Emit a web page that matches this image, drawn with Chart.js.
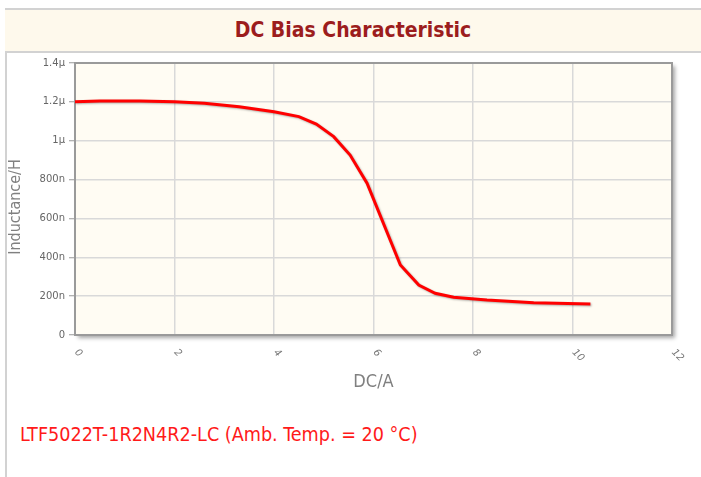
<!DOCTYPE html>
<html>
<head>
<meta charset="utf-8">
<script src="https://cdn.jsdelivr.net/npm/chart.js@4/dist/chart.umd.min.js"></script>
<style>
  html, body { margin: 0; padding: 0; background: #fff; }
  body { width: 701px; height: 477px; position: relative; overflow: hidden; }
  #leftLine { position: absolute; left: 5px; top: 8px; width: 2px; height: 469px; background: #d2d2d2; }
  #header { position: absolute; left: 5px; top: 8px; width: 696px; height: 41px; background: #fef9ec;
            border-top: 2px solid #d2d2d2; border-bottom: 2px solid #d2d2d2; box-sizing: content-box;
            font-family: "DejaVu Sans Condensed", "DejaVu Sans", sans-serif; font-weight: bold; font-size: 21px;
            color: #9c1d1d; text-align: center; line-height: 41px; }
  #footer { position: absolute; left: 20px; top: 423px; font-family: "DejaVu Sans Condensed", "DejaVu Sans", sans-serif;
            font-size: 19.6px; color: #ff1a1a; line-height: 24px; white-space: nowrap; }
  #wrap { position: absolute; left: 0; top: 0; width: 701px; height: 477px; }
</style>
</head>
<body>
<div id="leftLine"></div>
<div id="header">DC Bias Characteristic</div>
<div id="footer">LTF5022T-1R2N4R2-LC (Amb. Temp. = 20 °C)</div>
<div id="wrap"><canvas id="c" width="701" height="477"></canvas></div>
<script>
// Data
const currentA = [0, 0.5, 1.3, 2.0, 2.6, 3.3, 4.0, 4.5, 4.85, 5.2, 5.53, 5.87, 6.54, 6.91, 7.24, 7.61, 8.28, 9.22, 10.36];
const inductanceUH = [1.200, 1.205, 1.205, 1.200, 1.193, 1.175, 1.149, 1.124, 1.086, 1.021, 0.926, 0.781, 0.360, 0.257, 0.215, 0.194, 0.180, 0.166, 0.160];
const xTickLabels = ['0', '2', '4', '6', '8', '10', '12'];
const yTickLabels = ['0', '200n', '400n', '600n', '800n', '1µ', '1.2µ', '1.4µ'];
const yTitle = 'Inductance/H';

const points = currentA.map((x, i) => ({ x: x, y: inductanceUH[i] }));

const framePlugin = {
  id: 'frame',
  beforeDraw(chart) {
    const { ctx, chartArea: a } = chart;
    ctx.save();
    ctx.shadowColor = 'rgba(0,0,0,0.35)';
    ctx.shadowBlur = 4;
    ctx.shadowOffsetX = 3;
    ctx.shadowOffsetY = 3;
    ctx.fillStyle = '#fffcf3';
    ctx.fillRect(a.left, a.top, a.right - a.left, a.bottom - a.top);
    ctx.restore();
  },
  beforeDatasetsDraw(chart) {
    const { ctx, chartArea: a } = chart;
    ctx.save();
    ctx.strokeStyle = '#9a9a9a';
    ctx.lineWidth = 2;
    ctx.strokeRect(a.left, a.top, a.right - a.left, a.bottom - a.top);
    ctx.restore();
    ctx.save();
    ctx.shadowColor = 'rgba(0,0,0,0.3)';
    ctx.shadowBlur = 2;
    ctx.shadowOffsetX = 1;
    ctx.shadowOffsetY = 1;
  },
  afterDatasetsDraw(chart) {
    chart.ctx.restore();
  },
  afterDraw(chart) {
    const { ctx, chartArea: a } = chart;
    const xs = chart.scales.x;
    ctx.save();
    ctx.fillStyle = '#777';
    ctx.font = 'italic 10px "DejaVu Sans", sans-serif';
    ctx.textAlign = 'left';
    ctx.textBaseline = 'middle';
    xs.ticks.forEach((t, i) => {
      const px = xs.getPixelForValue(t.value);
      ctx.save();
      ctx.translate(px + 1, xs.top + 16);
      ctx.rotate(Math.PI / 4);
      ctx.fillText(xTickLabels[i] !== undefined ? xTickLabels[i] : String(t.value), 0, 0);
      ctx.restore();
    });
    // y axis title
    ctx.save();
    ctx.fillStyle = '#808080';
    ctx.font = '16px "DejaVu Sans Condensed", "DejaVu Sans", sans-serif';
    ctx.textAlign = 'center';
    ctx.textBaseline = 'middle';
    ctx.translate(16, (a.top + a.bottom) / 2 + 8);
    ctx.rotate(-Math.PI / 2);
    ctx.fillText(yTitle, 0, 0);
    ctx.restore();
    ctx.restore();
  }
};

new Chart(document.getElementById('c'), {
  type: 'line',
  data: {
    datasets: [{
      data: points,
      borderColor: '#ff0000',
      borderWidth: 3,
      pointRadius: 0,
      pointHoverRadius: 0,
      tension: 0,
      fill: false
    }]
  },
  options: {
    responsive: false,
    animation: false,
    events: [],
    layout: { padding: { left: 6, right: 29, top: 63, bottom: 82 } },
    plugins: { legend: { display: false }, tooltip: { enabled: false }, title: { display: false } },
    scales: {
      x: {
        type: 'linear',
        min: 0, max: 12,
        ticks: { stepSize: 2, display: false },
        grid: { color: '#d9d9d9', lineWidth: 1.5, drawTicks: false },
        border: { display: false },
        title: {
          display: true, text: 'DC/A', color: '#808080',
          font: { family: '"DejaVu Sans Condensed", "DejaVu Sans", sans-serif', size: 18 },
          padding: { top: 0, bottom: 2 }
        },
        afterFit(s) { s.height = 60; }
      },
      y: {
        type: 'linear',
        min: 0, max: 1.4,
        ticks: {
          stepSize: 0.2,
          color: '#666',
          padding: 4,
          font: { family: '"DejaVu Sans", sans-serif', size: 10 },
          callback: (v, i) => yTickLabels[i]
        },
        grid: { color: '#d9d9d9', lineWidth: 1.5, tickLength: 6, tickColor: '#999', tickWidth: 1 },
        border: { display: false },
        title: { display: false },
        afterFit(s) { s.width = 69; }
      }
    }
  },
  plugins: [framePlugin]
});
</script>
</body>
</html>
